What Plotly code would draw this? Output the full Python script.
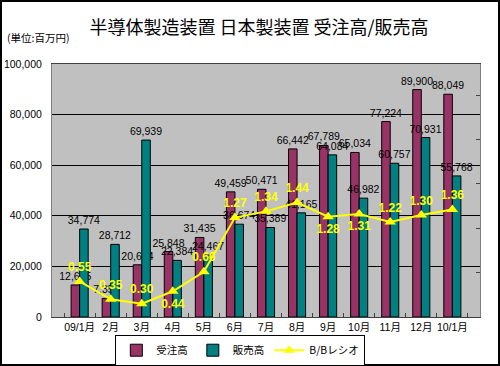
import plotly.graph_objects as go

months = ["09/1月", "2月", "3月", "4月", "5月", "6月", "7月", "8月", "9月", "10月", "11月", "12月", "10/1月"]
orders = [12665, 7353, 20634, 25848, 31435, 49459, 50471, 66442, 67789, 65034, 77224, 89900, 88049]
sales = [34774, 28712, 69939, 22384, 24467, 36674, 35389, 41165, 64084, 46982, 60757, 70931, 55768]
bb_ratio = [0.55, 0.35, 0.30, 0.44, 0.66, 1.27, 1.34, 1.44, 1.28, 1.31, 1.22, 1.30, 1.36]
bb_label_pos = ["top center", "top center", "top center", "bottom center", "top center", "top center",
                "top center", "top center", "bottom center", "bottom center", "top center", "top center", "top center"]

FONT = "Liberation Sans, Arial, Noto Sans CJK JP"
JFONT = "Noto Sans CJK JP, sans-serif"

fig = go.Figure()
fig.add_trace(go.Bar(
    x=months, y=orders, name="受注高",
    marker=dict(color="#993366", line=dict(color="black", width=1)),
    text=[f"{v:,}" for v in orders], textposition="outside",
    textfont=dict(size=10.5, color="black", family=FONT),
    constraintext="none", cliponaxis=False,
))
fig.add_trace(go.Bar(
    x=months, y=sales, name="販売高",
    marker=dict(color="#008080", line=dict(color="black", width=1)),
    text=[f"{v:,}" for v in sales], textposition="outside",
    textfont=dict(size=10.5, color="black", family=FONT),
    constraintext="none", cliponaxis=False,
))
fig.add_trace(go.Scatter(
    x=months, y=bb_ratio, name="B/Bレシオ", yaxis="y2",
    mode="lines+markers+text",
    line=dict(color="#FFFF00", width=2),
    marker=dict(symbol="triangle-up", size=10, color="#FFFF00"),
    text=[f"{v:.2f}" for v in bb_ratio], textposition=bb_label_pos,
    textfont=dict(size=12, color="#FFFF00", family="Liberation Sans, Arial", weight="bold"),
    cliponaxis=False,
))

fig.update_layout(
    width=500, height=366,
    margin=dict(l=52, r=20, t=64, b=49, autoexpand=False),
    paper_bgcolor="white", plot_bgcolor="#C0C0C0",
    barmode="group", bargap=0.45, bargroupgap=0.0,
    font=dict(family=FONT, size=11, color="black"),
    title=dict(text="半導体製造装置 日本製装置 受注高/販売高", x=0.518, xref="container", xanchor="center",
               y=1 - 28 / 366, yref="container", yanchor="middle",
               font=dict(family=JFONT, size=18, color="black")),
    xaxis=dict(type="category", showgrid=False, ticks="inside", tickson="boundaries", ticklen=4,
               tickangle=0, automargin=False,
               tickcolor="#404040", showline=True, linecolor="#404040", linewidth=1, mirror=True,
               tickfont=dict(family=FONT, size=10.5)),
    yaxis=dict(range=[0, 100000], dtick=20000, tickformat=",", showgrid=True, gridcolor="black", gridwidth=1,
               showline=True, linecolor="#808080", linewidth=1, mirror=True, zeroline=False, automargin=False,
               ticks="outside", ticklen=7, tickcolor="white", tickfont=dict(family=FONT, size=10.5)),
    yaxis2=dict(overlaying="y", side="right", range=[0.15, 3.0], tick0=0.15, dtick=0.5,
                showgrid=False, showticklabels=False, ticks="inside", ticklen=4, tickcolor="#404040",
                zeroline=False, showline=False, automargin=False),
    legend=dict(orientation="h", x=0.44, xanchor="center", y=-0.07, yanchor="top",
                bordercolor="black", borderwidth=1, bgcolor="white",
                font=dict(family=JFONT, size=10.5), itemwidth=30, tracegroupgap=0),
    showlegend=True,
)

fig.add_annotation(text="(単位:百万円)", xref="paper", yref="paper", x=-47 / 428, y=(317 - 38) / 253,
                   xanchor="left", yanchor="middle", showarrow=False, font=dict(family=JFONT, size=10.5))

# outer chart border
fig.add_shape(type="rect", xref="paper", yref="paper",
              x0=-51 / 428, x1=(499 - 52) / 428, y0=-48 / 253, y1=(317 - 1) / 253,
              line=dict(color="black", width=2), fillcolor="rgba(0,0,0,0)", layer="above")

fig.write_html("out.html", config={"displayModeBar": False},
               post_script="document.body.style.margin='0';")
